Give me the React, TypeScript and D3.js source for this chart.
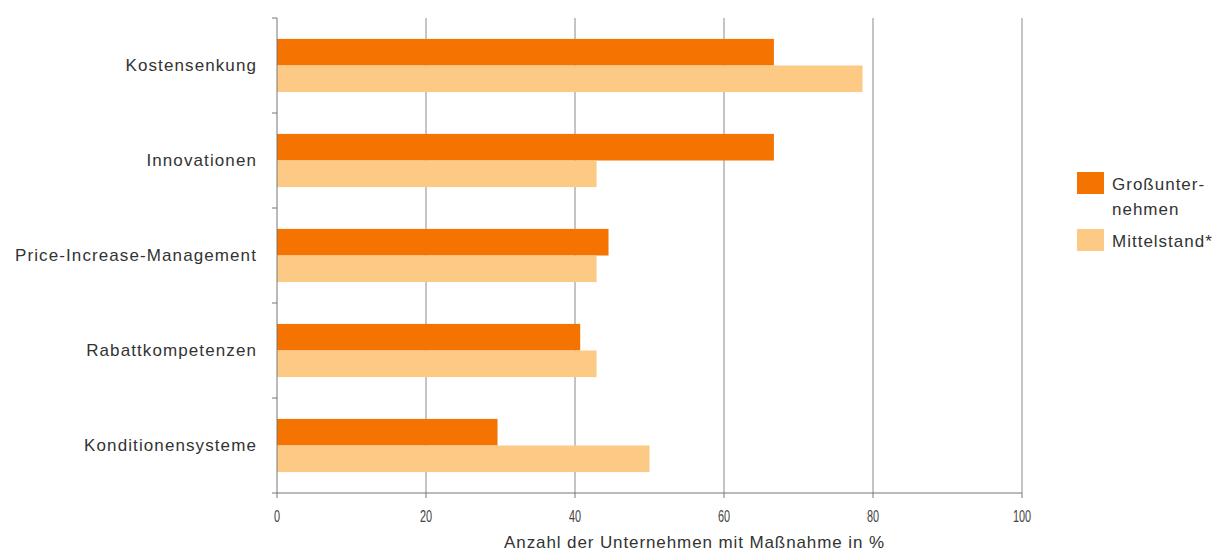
import React from "react";
import * as d3 from "d3";

const categories = ["Kostensenkung", "Innovationen", "Price-Increase-Management", "Rabattkompetenzen", "Konditionensysteme"];
const grossunternehmen = [66.7, 66.7, 44.5, 40.7, 29.6];
const mittelstand = [78.6, 42.9, 42.9, 42.9, 50.0];
const xTicks = [0, 20, 40, 60, 80, 100];
const seriesNames = ["Großunter-|nehmen", "Mittelstand*"];
const colors = ["#F57300", "#FDCA86"];

export default function App() {
  const W = 1219, H = 552;
  const left = 277, right = 1022, top = 18, bottom = 493;
  const x = d3.scaleLinear().domain([0, 100]).range([left, right]);
  const y = d3.scaleBand().domain(categories).range([top, bottom]).paddingInner(0.44).paddingOuter(0.22);
  const inner = d3.scaleBand().domain(["g", "m"]).range([0, y.bandwidth()]);
  const font = "'Liberation Sans', Arial, sans-serif";
  const boundaries = d3.range(categories.length + 1).map((i) => top + (i * (bottom - top)) / categories.length);
  return (
    <svg width={W} height={H} style={{ position: "absolute", left: 0, top: 0, background: "#fff" }} fontFamily={font}>
      {xTicks.filter((t) => t > 0).map((t) => (
        <line key={"g" + t} x1={x(t)} x2={x(t)} y1={top} y2={bottom} stroke="#8a8a8a" strokeWidth={1} />
      ))}
      {categories.map((c, i) => (
        <g key={c}>
          <rect x={x(0)} y={y(c)!} width={x(grossunternehmen[i]) - x(0)} height={inner.bandwidth()} fill={colors[0]} />
          <rect x={x(0)} y={y(c)! + inner("m")!} width={x(mittelstand[i]) - x(0)} height={inner.bandwidth()} fill={colors[1]} />
          <text x={257} y={y(c)! + y.bandwidth() / 2} dy="0.35em" textAnchor="end" fontSize={17} letterSpacing={1.1} fill="#333">{c}</text>
        </g>
      ))}
      <line x1={left} x2={left} y1={top} y2={bottom} stroke="#777" />
      {boundaries.map((b, i) => (
        <line key={"b" + i} x1={left - 5} x2={left} y1={b} y2={b} stroke="#777" />
      ))}
      <line x1={left} x2={right} y1={bottom} y2={bottom} stroke="#777" />
      {xTicks.map((t) => (
        <g key={"t" + t}>
          <line x1={x(t)} x2={x(t)} y1={bottom} y2={bottom + 5} stroke="#777" />
          <text transform={`translate(${x(t)},516) scale(0.66,1)`} dy="0.35em" textAnchor="middle" fontSize={16.5} fill="#444">{t}</text>
        </g>
      ))}
      <text x={(left + right) / 2 + 45} y={542} dy="0.35em" textAnchor="middle" fontSize={17} letterSpacing={0.9} fill="#333">
        Anzahl der Unternehmen  mit Maßnahme in %
      </text>
      <rect x={1077} y={172} width={27} height={22} fill={colors[0]} />
      <text x={1112} y={184} dy="0.35em" fontSize={17} letterSpacing={1} fill="#333">{seriesNames[0].split("|")[0]}</text>
      <text x={1112} y={209} dy="0.35em" fontSize={17} letterSpacing={1} fill="#333">{seriesNames[0].split("|")[1]}</text>
      <rect x={1077} y={229} width={27} height={22} fill={colors[1]} />
      <text x={1112} y={241} dy="0.35em" fontSize={17} letterSpacing={1} fill="#333">{seriesNames[1]}</text>
    </svg>
  );
}
